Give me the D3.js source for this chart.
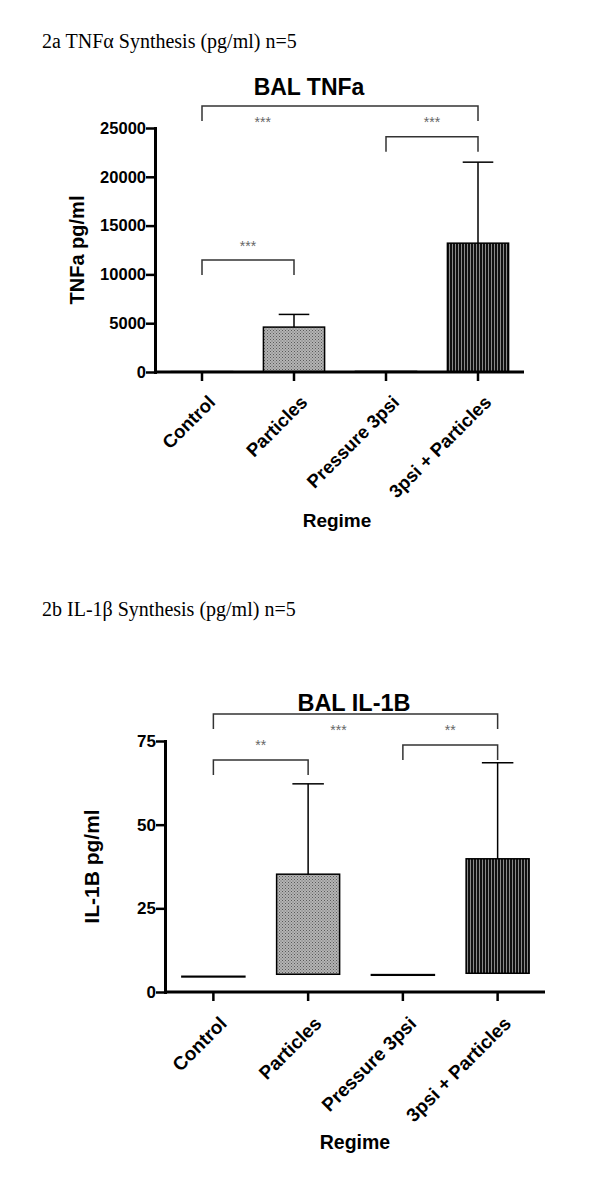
<!DOCTYPE html>
<html>
<head>
<meta charset="utf-8">
<script src="https://cdn.jsdelivr.net/npm/d3@7"></script>
<style>
  body { margin: 0; background: #fff; }
  text { font-family: "Liberation Sans", Arial, Helvetica, sans-serif; }
</style>
</head>
<body>
<svg id="fig" width="600" height="1184"></svg>
<script>
// --- data ---
var categories = ["Control", "Particles", "Pressure 3psi", "3psi + Particles"];

// 2a BAL TNFa (pg/ml)
var tnfBase = [0, 0, 0, 0];
var tnfMean = [40, 4600, 60, 13200];
var tnfErrTop = [null, 5900, null, 21500];
var tnfTicks = [0, 5000, 10000, 15000, 20000, 25000];
var tnfSig = [
  {from: 0, to: 3, label: "***"},
  {from: 2, to: 3, label: "***"},
  {from: 0, to: 1, label: "***"}
];

// 2b BAL IL-1B (pg/ml) - bars float from a low value
var ilBase = [4.5, 5.3, 5.0, 5.6];
var ilMean = [4.7, 35.2, 5.2, 39.8];
var ilErrTop = [null, 62.2, null, 68.5];
var ilTicks = [0, 25, 50, 75];
var ilSig = [
  {from: 0, to: 3, label: "***"},
  {from: 2, to: 3, label: "**"},
  {from: 0, to: 1, label: "**"}
];

var svg = d3.select("#fig");

// fill patterns: dotted grey and vertical black stripes
var defs = svg.append("defs");
var dots = defs.append("pattern")
  .attr("id", "dots").attr("patternUnits", "userSpaceOnUse")
  .attr("width", 3).attr("height", 3);
dots.append("rect").attr("width", 3).attr("height", 3).attr("fill", "#b4b4b4");
dots.append("rect").attr("x", 0).attr("y", 0).attr("width", 1).attr("height", 1).attr("fill", "#5a5a5a");
dots.append("rect").attr("x", 1.5).attr("y", 1.5).attr("width", 1).attr("height", 1).attr("fill", "#6a6a6a");

var stripes = defs.append("pattern")
  .attr("id", "stripes").attr("patternUnits", "userSpaceOnUse")
  .attr("width", 3).attr("height", 3);
stripes.append("rect").attr("width", 3).attr("height", 3).attr("fill", "#111");
stripes.append("rect").attr("x", 2).attr("width", 1).attr("height", 3).attr("fill", "#8a8a8a");

var barFills = ["#fff", "url(#dots)", "#fff", "url(#stripes)"];

function drawChart(cfg) {
  var g = svg.append("g");

  var x = d3.scaleBand()
    .domain(categories)
    .range([cfg.x0, cfg.x1])
    .paddingInner(0.335)
    .paddingOuter(0.1675);

  var y = d3.scaleLinear()
    .domain([0, cfg.yMax])
    .range([cfg.yBot, cfg.yTop]);

  var cx = function(i) { return x(categories[i]) + x.bandwidth() / 2; };

  // header line above the chart
  svg.append("text")
    .attr("x", 42).attr("y", cfg.headY)
    .style("font-family", "'Liberation Serif', 'Times New Roman', serif")
    .style("font-size", "20px")
    .text(cfg.header);

  // chart title
  g.append("text")
    .attr("x", cfg.titleX).attr("y", cfg.titleY)
    .attr("text-anchor", "middle")
    .style("font-size", cfg.titleSize + "px")
    .style("font-weight", "bold")
    .text(cfg.title);

  // bars
  g.selectAll(".bar")
    .data(cfg.mean)
    .enter().append("rect")
    .attr("class", "bar")
    .attr("x", function(d, i) { return x(categories[i]); })
    .attr("width", x.bandwidth())
    .attr("y", function(d) { return y(d); })
    .attr("height", function(d, i) { return Math.max(0.01, y(cfg.base[i]) - y(d)); })
    .attr("fill", function(d, i) { return barFills[i]; })
    .attr("stroke", "#000")
    .attr("stroke-width", 1.5);

  // upward error bars
  var err = cfg.errTop.map(function(d, i) { return {i: i, top: d}; })
    .filter(function(d) { return d.top != null; });

  g.selectAll(".err")
    .data(err)
    .enter().append("line")
    .attr("x1", function(d) { return cx(d.i); })
    .attr("x2", function(d) { return cx(d.i); })
    .attr("y1", function(d) { return y(cfg.mean[d.i]); })
    .attr("y2", function(d) { return y(d.top); })
    .attr("stroke", "#000").attr("stroke-width", 1.5);

  g.selectAll(".cap")
    .data(err)
    .enter().append("line")
    .attr("x1", function(d) { return cx(d.i) - x.bandwidth() / 4; })
    .attr("x2", function(d) { return cx(d.i) + x.bandwidth() / 4; })
    .attr("y1", function(d) { return y(d.top); })
    .attr("y2", function(d) { return y(d.top); })
    .attr("stroke", "#000").attr("stroke-width", 1.5);

  // significance brackets
  cfg.sig.forEach(function(s, k) {
    var lay = cfg.sigLayout[k];
    var yl = y(lay.level);
    var xa = cx(s.from), xb = cx(s.to);
    g.append("path")
      .attr("d", "M" + xa + "," + (yl + cfg.drop) + "V" + yl + "H" + xb + "V" + (yl + cfg.drop))
      .attr("fill", "none")
      .attr("stroke", "#333")
      .attr("stroke-width", 1.5);
    g.append("text")
      .attr("x", xa + (xb - xa) * lay.frac)
      .attr("y", yl + lay.dy + 8)
      .attr("text-anchor", "middle")
      .style("font-size", "14px")
      .style("fill", "#666")
      .text(s.label);
  });

  // y axis
  var yAxis = g.append("g")
    .attr("transform", "translate(" + cfg.axisX + ",0)")
    .call(d3.axisLeft(y).tickValues(cfg.ticks).tickSize(9).tickSizeOuter(0).tickFormat(d3.format("d")));
  yAxis.select(".domain").attr("stroke-width", 3).attr("stroke-linecap", "square");
  yAxis.selectAll(".tick line").attr("stroke-width", 2.5);
  yAxis.selectAll(".tick text")
    .attr("x", -9)
    .style("font-size", cfg.tickSize + "px")
    .style("font-weight", "bold")
    .style("font-family", "'Liberation Sans', Arial, sans-serif")
    .attr("fill", "#000");

  // x axis
  var xAxis = g.append("g")
    .attr("transform", "translate(0," + cfg.yBot + ")")
    .call(d3.axisBottom(x).tickSize(9).tickSizeOuter(0));
  xAxis.select(".domain")
    .attr("d", "M" + cfg.axisX + ",0H" + cfg.x1)
    .attr("stroke-width", 3);
  xAxis.selectAll(".tick line").attr("stroke-width", 2.5);
  xAxis.selectAll(".tick text")
    .attr("x", 0).attr("y", 0).attr("dy", "0.72em")
    .attr("text-anchor", "end")
    .attr("transform", "translate(5," + cfg.labOff + ") rotate(-45)")
    .style("font-size", cfg.catSize + "px")
    .style("font-weight", "bold")
    .style("font-family", "'Liberation Sans', Arial, sans-serif")
    .attr("fill", "#000");

  // axis titles
  g.append("text")
    .attr("transform", "translate(" + cfg.yTitleX + "," + (cfg.yTop + cfg.yBot) / 2 + ") rotate(-90)")
    .attr("text-anchor", "middle")
    .style("font-size", cfg.yTitleSize + "px")
    .style("font-weight", "bold")
    .text(cfg.yTitle);

  g.append("text")
    .attr("x", cfg.xTitleX).attr("y", cfg.xTitleY)
    .attr("text-anchor", "middle")
    .style("font-size", cfg.xTitleSize + "px")
    .style("font-weight", "bold")
    .text("Regime");
}

drawChart({
  header: "2a TNF\u03b1 Synthesis (pg/ml) n=5", headY: 48,
  title: "BAL TNFa", titleX: 309, titleY: 95, titleSize: 23,
  base: tnfBase, mean: tnfMean, errTop: tnfErrTop, ticks: tnfTicks, sig: tnfSig,
  sigLayout: [
    {level: 27250, frac: 0.22, dy: 13},
    {level: 24100, frac: 0.5, dy: -18},
    {level: 11480, frac: 0.5, dy: -17}
  ],
  drop: 15,
  x0: 156, x1: 524, axisX: 155, yTop: 128, yBot: 372, yMax: 25000,
  tickSize: 16.5, catSize: 18.5, labOff: 22,
  yTitle: "TNFa pg/ml", yTitleX: 84, yTitleSize: 20,
  xTitleX: 337, xTitleY: 527, xTitleSize: 19
});

drawChart({
  header: "2b IL-1\u03b2 Synthesis (pg/ml) n=5", headY: 616,
  title: "BAL IL-1B", titleX: 354, titleY: 711, titleSize: 23.5,
  base: ilBase, mean: ilMean, errTop: ilErrTop, ticks: ilTicks, sig: ilSig,
  sigLayout: [
    {level: 83.1, frac: 0.44, dy: 13},
    {level: 73.8, frac: 0.5, dy: -18},
    {level: 69.3, frac: 0.5, dy: -18}
  ],
  drop: 15,
  x0: 166, x1: 545, axisX: 165, yTop: 741, yBot: 992, yMax: 75,
  tickSize: 17, catSize: 19, labOff: 23,
  yTitle: "IL-1B pg/ml", yTitleX: 99, yTitleSize: 21,
  xTitleX: 355, xTitleY: 1149, xTitleSize: 19.5
});
</script>
</body>
</html>
